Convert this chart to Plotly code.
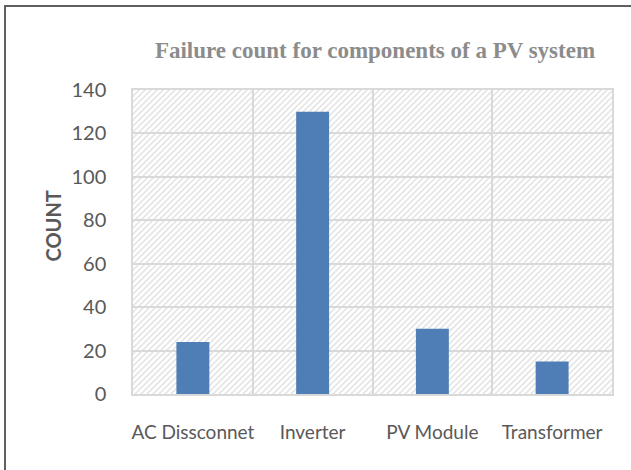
import base64
import plotly.graph_objects as go

categories = ["AC Dissconnet", "Inverter", "PV Module", "Transformer"]
counts = [24, 130, 30, 15]
y_ticks = [0, 20, 40, 60, 80, 100, 120, 140]

W, H = 631, 470
ML, MR, MT, MB = 133, 19, 90, 76
PW, PH = W - ML - MR, H - MT - MB

svg = f'''<svg xmlns="http://www.w3.org/2000/svg" width="{PW}" height="{PH}" viewBox="0 0 {PW} {PH}">
<defs><pattern id="h" width="6" height="6" patternUnits="userSpaceOnUse">
<path d="M-1,1 l2,-2 M0,6 l6,-6 M5,7 l2,-2" stroke="#e5e5e5" stroke-width="1.6"/>
</pattern></defs>
<rect width="{PW}" height="{PH}" fill="white"/>
<rect width="{PW}" height="{PH}" fill="url(#h)"/>
</svg>'''
src = "data:image/svg+xml;base64," + base64.b64encode(svg.encode()).decode()

fig = go.Figure()
fig.add_trace(go.Bar(x=categories, y=counts, marker=dict(color="#4F7DB6", line=dict(width=0))))

gray = "#595959"
fig.update_layout(
    width=W, height=H,
    margin=dict(l=ML, r=MR, t=MT, b=MB, autoexpand=False),
    paper_bgcolor="white",
    plot_bgcolor="rgba(0,0,0,0)",
    bargap=0.725,
    showlegend=False,
    title=dict(text="<b>Failure count for components of a PV system</b>",
               font=dict(family="Liberation Serif", size=23, color="#8C8C8C"),
               x=375 / W, xanchor="center", y=1 - 50 / H, yanchor="middle"),
    font=dict(family="Lato", color=gray),
    images=[dict(source=src, xref="paper", yref="paper", x=0, y=1, sizex=1, sizey=1,
                 sizing="stretch", layer="below", xanchor="left", yanchor="top")],
    shapes=[dict(type="rect", xref="paper", yref="paper",
                 x0=(5 - ML) / PW, x1=(W + 10 - ML) / PW,
                 y0=-(H + 10 - MT - PH) / PH, y1=1 + (MT - 6) / PH,
                 line=dict(color="#5F5F5F", width=2), layer="below")],
    annotations=[dict(text="<b>COUNT</b>", textangle=-90, showarrow=False,
                      xref="paper", yref="paper",
                      x=(52.5 - ML) / PW, y=(H - MB - 226) / PH,
                      xanchor="center", yanchor="middle",
                      font=dict(family="Lato", size=20, color=gray))],
)
fig.update_xaxes(
    type="category", tickson="boundaries", showgrid=True, gridcolor="#D9D9D9", gridwidth=1.5,
    showline=True, linecolor="#D9D9D9", linewidth=1.5, mirror=True, automargin=False,
    ticks="", tickangle=0, tickfont=dict(family="Lato", size=19, color=gray), ticklabelstandoff=20,
    range=[-0.5, 3.5],
)
fig.update_yaxes(
    range=[0, 140], tickvals=y_ticks, showgrid=True, gridcolor="#D9D9D9", gridwidth=1.5,
    showline=True, linecolor="#D9D9D9", linewidth=1.5, mirror=True, zeroline=False, automargin=False,
    ticks="", tickfont=dict(family="Lato", size=20, color=gray), ticklabelstandoff=21,
)
fig.write_html("out.html", config={"displayModeBar": False},
               post_script="document.body.style.margin='0';document.body.style.overflow='hidden';")
